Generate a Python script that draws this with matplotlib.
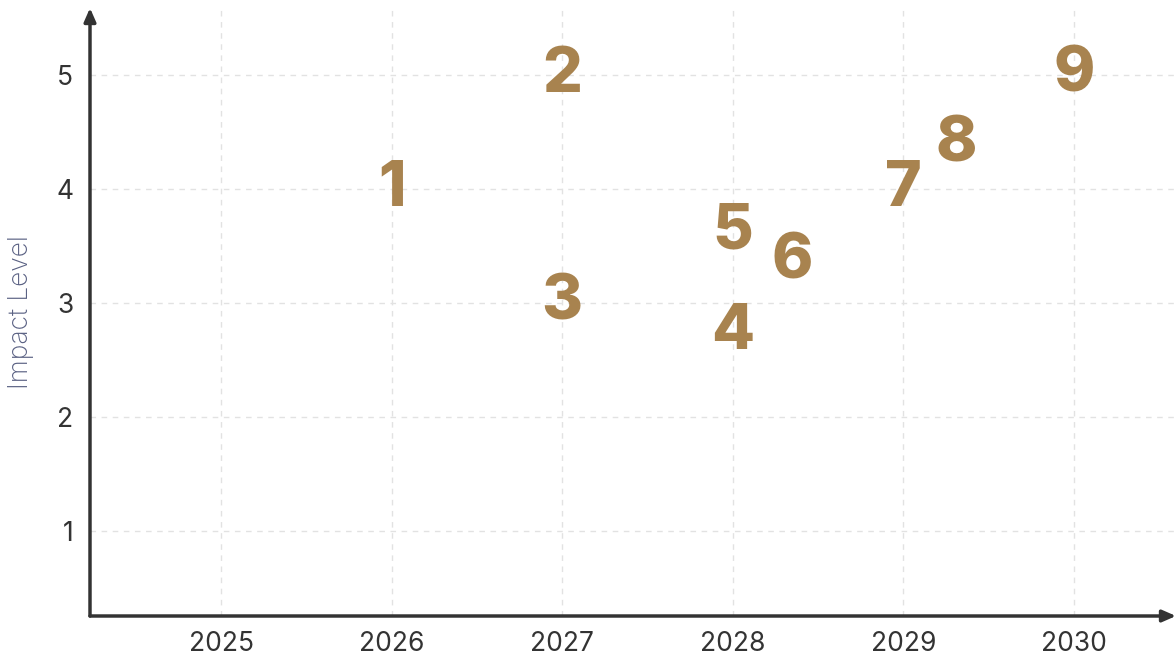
import matplotlib
matplotlib.use("Agg")
import matplotlib.pyplot as plt

labels = ["1", "2", "3", "4", "5", "6", "7", "8", "9"]
years = [2026, 2027, 2027, 2028, 2028, 2028.35, 2029, 2029.31, 2030]
impact = [4.0, 5.0, 3.0, 2.74, 3.62, 3.36, 4.0, 4.39, 5.0]

xticks = [2025, 2026, 2027, 2028, 2029, 2030]
yticks = [1, 2, 3, 4, 5]

num_color = "#a8834f"
axis_color = "#333333"
font = ["Inter", "DejaVu Sans"]

fig = plt.figure(figsize=(11.76, 6.56), dpi=100)
ax = fig.add_axes([90 / 1176, 40 / 656, 1 - 90 / 1176, (616 - 8) / 656])

ax.set_xlim(2024.23, 2030.6)
ax.set_ylim(0.254, 5.59)

for lab, x, y in zip(labels, years, impact):
    ax.text(x, y, lab, ha="center", va="center", fontsize=45, fontweight="heavy",
            family=font, color=num_color)

ax.set_xticks(xticks)
ax.set_yticks(yticks)
ax.set_xticklabels([str(t) for t in xticks], family=font, fontsize=19, color=axis_color)
ax.set_yticklabels([str(t) for t in yticks], family=font, fontsize=19, color=axis_color)
ax.tick_params(length=0, pad=12)
ax.tick_params(axis="x", pad=11)

ax.grid(True, linestyle=(0, (4, 4)), color="#e2e2e2", linewidth=1)
ax.set_axisbelow(True)

for s in ax.spines.values():
    s.set_visible(False)

ax.annotate("", xy=(1.0, 0), xytext=(0, 0), xycoords="axes fraction",
            arrowprops=dict(arrowstyle="-|>,head_length=0.8,head_width=0.35",
                            color=axis_color, lw=2.5, shrinkA=0, shrinkB=0))
ax.annotate("", xy=(0, 1.0), xytext=(0, 0), xycoords="axes fraction",
            arrowprops=dict(arrowstyle="-|>,head_length=0.8,head_width=0.35",
                            color=axis_color, lw=2.5, shrinkA=0, shrinkB=0))

ax.set_ylabel("Impact Level", family=font, fontsize=19, color="#5a6183",
              fontweight="light", labelpad=16)

fig.savefig("out.png", dpi=100)
